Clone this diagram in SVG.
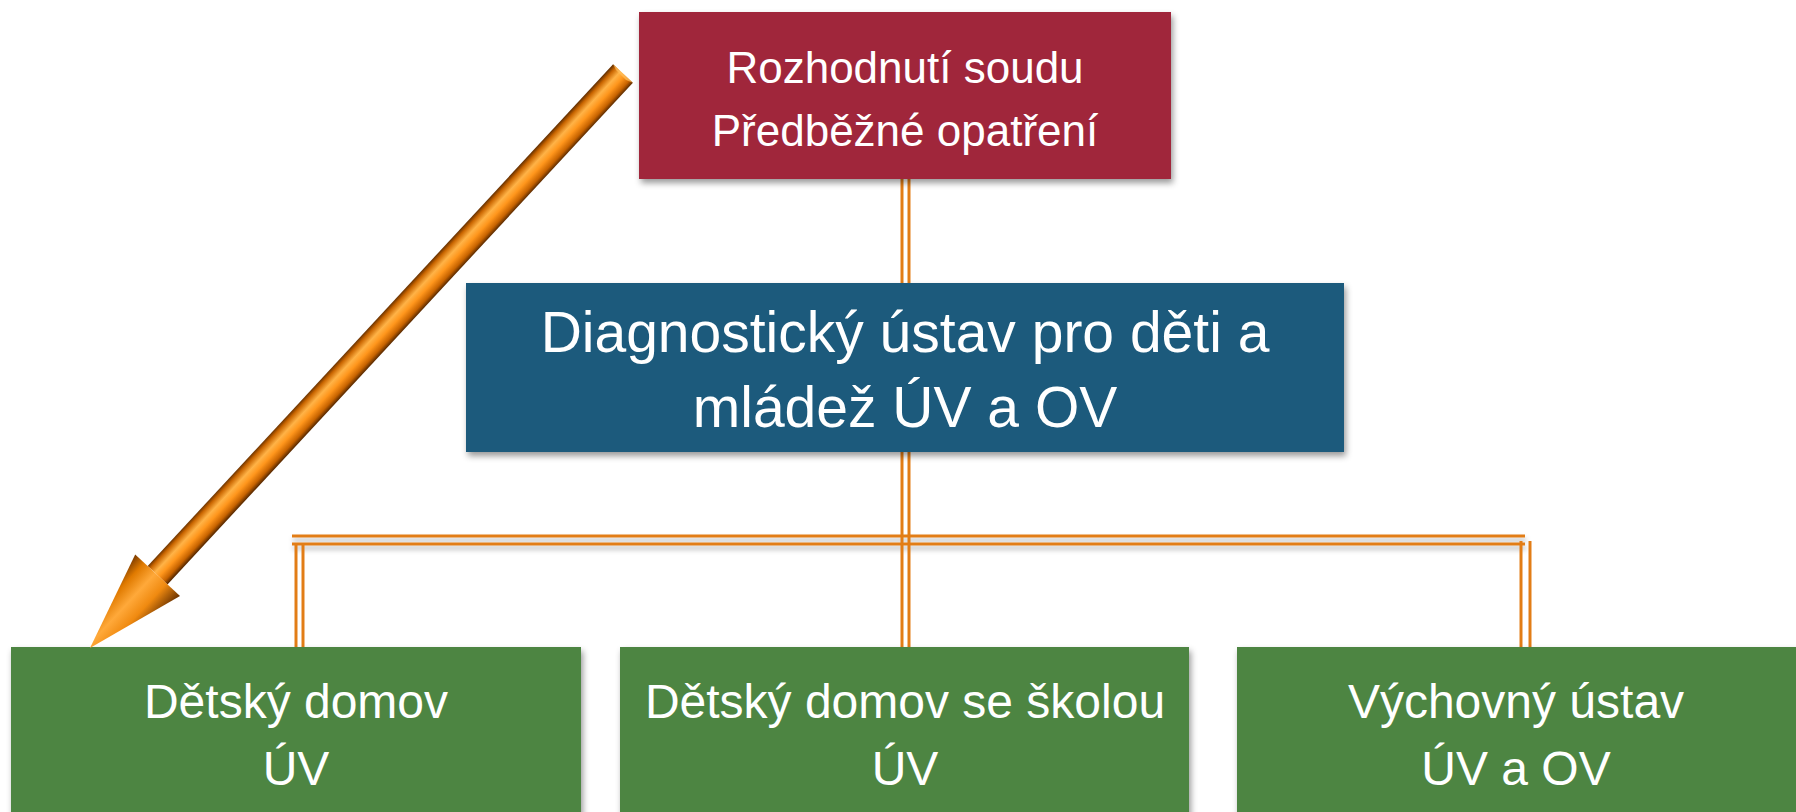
<svg xmlns="http://www.w3.org/2000/svg" width="1796" height="812" viewBox="0 0 1796 812">
  <style>
    .txt { font-family: "Liberation Sans", Arial, sans-serif; fill: #ffffff; text-anchor: middle; }
    .conn line { stroke: #E27D16; stroke-width: 3; }
  </style>
  <defs>
    <filter id="shadow" x="-5%" y="-5%" width="115%" height="125%">
      <feDropShadow dx="2" dy="4" stdDeviation="3" flood-color="#000" flood-opacity="0.4"/>
    </filter>
    <filter id="lshadow" x="-5%" y="-50%" width="110%" height="300%">
      <feDropShadow dx="1" dy="4" stdDeviation="2.5" flood-color="#000" flood-opacity="0.3"/>
    </filter>
    <linearGradient id="shaftGrad" gradientUnits="userSpaceOnUse" x1="613.1" y1="64.3" x2="632.9" y2="82.7">
      <stop offset="0" stop-color="#5e2c00"/>
      <stop offset="0.15" stop-color="#c96500"/>
      <stop offset="0.38" stop-color="#ffb347"/>
      <stop offset="0.6" stop-color="#ff961c"/>
      <stop offset="0.85" stop-color="#c76300"/>
      <stop offset="1" stop-color="#5e2c00"/>
    </linearGradient>
    <linearGradient id="headGrad" gradientUnits="userSpaceOnUse" x1="135.2" y1="554.5" x2="180" y2="596">
      <stop offset="0" stop-color="#7a3a00"/>
      <stop offset="0.2" stop-color="#e07a00"/>
      <stop offset="0.45" stop-color="#ffa93a"/>
      <stop offset="0.7" stop-color="#f08a10"/>
      <stop offset="1" stop-color="#6a3200"/>
    </linearGradient>
  </defs>
  <rect width="1796" height="812" fill="#ffffff"/>

  <g id="connectors" class="conn">
    <g>
      <line x1="902" y1="179" x2="902" y2="284"/>
      <line x1="909" y1="179" x2="909" y2="284"/>
    </g>
    <g filter="url(#lshadow)">
      <line x1="292" y1="536" x2="1525" y2="536"/>
      <line x1="292" y1="544" x2="1525" y2="544"/>
    </g>
    <line x1="902" y1="452" x2="902" y2="647"/>
    <line x1="909" y1="452" x2="909" y2="647"/>
    <line x1="296" y1="544" x2="296" y2="647"/>
    <line x1="303" y1="544" x2="303" y2="647"/>
    <line x1="1521" y1="541" x2="1521" y2="647"/>
    <line x1="1530" y1="541" x2="1530" y2="647"/>
  </g>

  <g id="node-court">
    <rect x="639" y="12" width="532" height="167" fill="#A0283A" filter="url(#shadow)"/>
    <text class="txt" x="905" y="83" font-size="44">Rozhodnutí soudu</text>
    <text class="txt" x="905" y="146" font-size="44">Předběžné opatření</text>
  </g>

  <g id="node-diag">
    <rect x="466" y="283" width="878" height="169" fill="#1F5A7C" filter="url(#shadow)"/>
    <text class="txt" x="905" y="352" font-size="57">Diagnostický ústav pro děti a</text>
    <text class="txt" x="905" y="427" font-size="57">mládež ÚV a OV</text>
  </g>

  <g id="node-dd">
    <rect x="11" y="647" width="570" height="180" fill="#4E8542" filter="url(#shadow)"/>
    <text class="txt" x="296" y="718" font-size="48">Dětský domov</text>
    <text class="txt" x="296" y="785" font-size="48">ÚV</text>
  </g>

  <g id="node-dds">
    <rect x="620" y="647" width="569" height="180" fill="#4E8542" filter="url(#shadow)"/>
    <text class="txt" x="905" y="718" font-size="48">Dětský domov se školou</text>
    <text class="txt" x="905" y="785" font-size="48">ÚV</text>
  </g>

  <g id="node-vu">
    <rect x="1237" y="647" width="570" height="180" fill="#4E8542" filter="url(#shadow)"/>
    <text class="txt" x="1516" y="718" font-size="48">Výchovný ústav</text>
    <text class="txt" x="1516" y="785" font-size="48">ÚV a OV</text>
  </g>

  <g id="arrow">
    <polygon points="613.1,64.3 632.9,82.7 167.5,584.4 147.7,566.0" fill="url(#shaftGrad)"/>
    <polygon points="135.2,554.5 180,596 90,648" fill="url(#headGrad)"/>
    <polygon points="147.7,566.0 167.5,584.4 180,596 135.2,554.5" fill="#ffb347" opacity="0.5"/>
    <polygon points="613.1,64.3 632.9,82.7 626,80 616,70" fill="#ffc060" opacity="0.7"/>
  </g>
</svg>
